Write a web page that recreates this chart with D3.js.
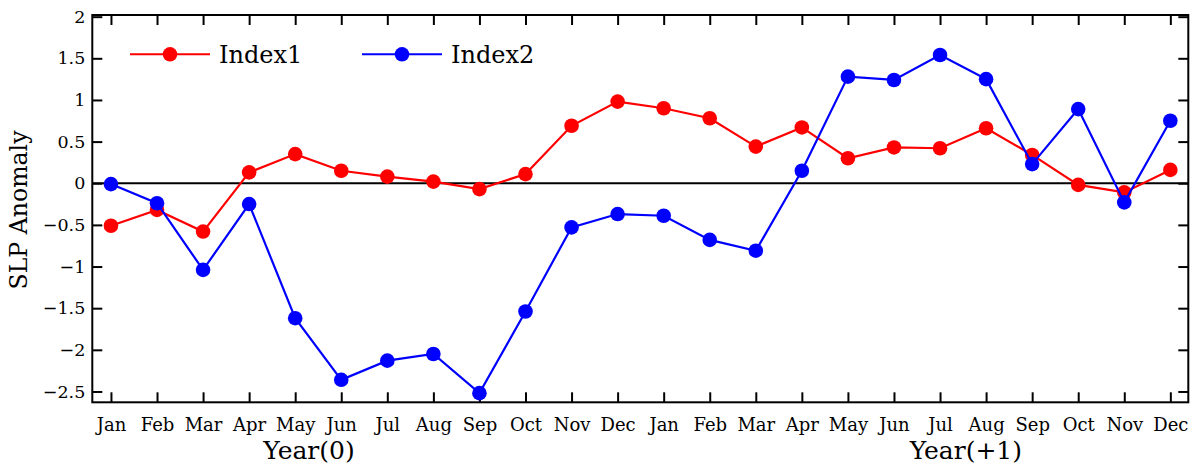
<!DOCTYPE html>
<html>
<head>
<meta charset="utf-8">
<script src="https://cdn.jsdelivr.net/npm/d3@7"></script>
<style>
  html, body { margin: 0; padding: 0; background: #fff; }
  svg { display: block; }
  text { font-family: "DejaVu Serif", serif; fill: #000; }
</style>
</head>
<body>
<svg id="chart" width="1200" height="474"></svg>
<script>
const months = ["Jan","Feb","Mar","Apr","May","Jun","Jul","Aug","Sep","Oct","Nov","Dec",
                "Jan","Feb","Mar","Apr","May","Jun","Jul","Aug","Sep","Oct","Nov","Dec"];
const index1 = [-0.51, -0.32, -0.58, 0.13, 0.35, 0.15, 0.08, 0.02, -0.07, 0.11, 0.69, 0.98,
                 0.90, 0.78, 0.44, 0.67, 0.30, 0.43, 0.42, 0.66, 0.34, -0.02, -0.11, 0.16];
const index2 = [-0.01, -0.24, -1.04, -0.25, -1.62, -2.36, -2.13, -2.05, -2.52, -1.54, -0.53, -0.37,
                -0.39, -0.68, -0.81, 0.15, 1.28, 1.24, 1.54, 1.25, 0.23, 0.89, -0.23, 0.75];
const yTicks = [2, 1.5, 1, 0.5, 0, -0.5, -1, -1.5, -2, -2.5];
const seriesNames = ["Index1", "Index2"];
const seriesColors = ["#ff0000", "#0000ff"];
const yearLabels = ["Year(0)", "Year(+1)"];

const svg = d3.select("#chart");
const L = 92.3, R = 1188.3, T = 15, B = 402.3;
const x = d3.scaleLinear().domain([-0.405, 23.39]).range([L, R]);
const y = d3.scaleLinear().domain([-2.63, 2.02]).range([B, T]);
const idx = d3.range(months.length);
const fmt = v => (v < 0 ? "\u2212" + Math.abs(v) : String(v));

// zero line
svg.append("line").attr("x1", L).attr("x2", R).attr("y1", y(0)).attr("y2", y(0))
  .attr("stroke", "#000").attr("stroke-width", 2);

// axes with inward ticks
const tickLen = 10;
const gB = svg.append("g").attr("transform", `translate(0,${B})`)
  .call(d3.axisBottom(x).tickValues(idx).tickSize(-tickLen).tickPadding(tickLen + 10)
    .tickFormat(i => months[i]));
const gT = svg.append("g").attr("transform", `translate(0,${T})`)
  .call(d3.axisTop(x).tickValues(idx).tickSize(-tickLen).tickFormat(""));
const gL = svg.append("g").attr("transform", `translate(${L},0)`)
  .call(d3.axisLeft(y).tickValues(yTicks).tickSize(-tickLen).tickPadding(7).tickFormat(fmt));
const gR = svg.append("g").attr("transform", `translate(${R},0)`)
  .call(d3.axisRight(y).tickValues(yTicks).tickSize(-tickLen).tickFormat(""));
[gB, gT, gL, gR].forEach(g => {
  g.select(".domain").remove();
  g.selectAll(".tick line").attr("stroke", "#000").attr("stroke-width", 2);
});
gB.selectAll(".tick text").attr("font-size", 18).attr("font-family", "DejaVu Serif")
  .attr("dy", "0.5em");
gL.selectAll(".tick text").attr("font-size", 17.5).attr("font-family", "DejaVu Serif");

// frame
svg.append("rect").attr("x", L).attr("y", T).attr("width", R - L).attr("height", B - T)
  .attr("fill", "none").attr("stroke", "#000").attr("stroke-width", 2);

// series
const line = d3.line().x((d, i) => x(i)).y(d => y(d));
[index1, index2].forEach((data, s) => {
  svg.append("path").datum(data).attr("d", line).attr("fill", "none")
    .attr("stroke", seriesColors[s]).attr("stroke-width", 2.2);
  svg.append("g").selectAll("circle").data(data).join("circle")
    .attr("cx", (d, i) => x(i)).attr("cy", d => y(d)).attr("r", 7.3)
    .attr("fill", seriesColors[s]);
});

// legend
const legendX = [170, 402];
seriesNames.forEach((name, s) => {
  const cx = legendX[s], cy = 54.3;
  svg.append("line").attr("x1", cx - 40).attr("x2", cx + 40).attr("y1", cy).attr("y2", cy)
    .attr("stroke", seriesColors[s]).attr("stroke-width", 2);
  svg.append("circle").attr("cx", cx).attr("cy", cy).attr("r", 7.3).attr("fill", seriesColors[s]);
  svg.append("text").attr("x", cx + 49).attr("y", cy + 8.5).attr("font-size", 24).text(name);
});

// year labels
svg.append("text").attr("x", x(4.3)).attr("y", 459).attr("text-anchor", "middle")
  .attr("font-size", 25).text(yearLabels[0]);
svg.append("text").attr("x", x(18.56)).attr("y", 459).attr("text-anchor", "middle")
  .attr("font-size", 25).text(yearLabels[1]);

// y axis title
svg.append("text").attr("transform", "translate(27,210) rotate(-90)").attr("text-anchor", "middle")
  .attr("font-size", 23.6).text("SLP Anomaly");
</script>
</body>
</html>
